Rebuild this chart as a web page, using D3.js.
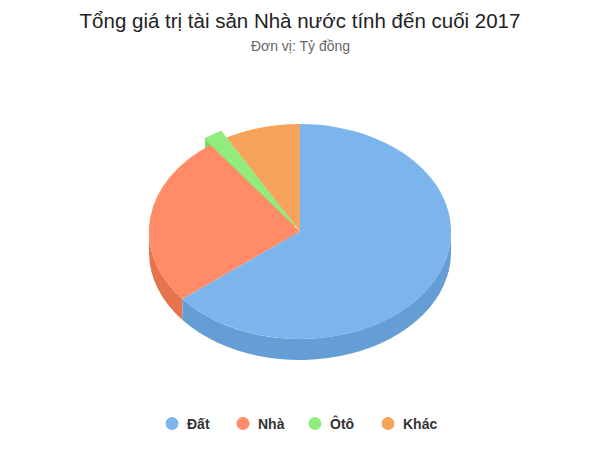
<!DOCTYPE html>
<html><head><meta charset="utf-8">
<script src="https://cdn.jsdelivr.net/npm/d3@7/dist/d3.min.js"></script>
<style>html,body{margin:0;padding:0;background:#fff}svg{display:block}text{font-family:"Liberation Sans",Arial,sans-serif}</style>
</head><body><div id="c"></div>
<script>
const categories = ["Đất", "Nhà", "Ôtô", "Khác"];
const values = [64.2, 25.7, 2.0, 8.1];
const colors = ["#7cb5ec", "#ff8c66", "#90ed7d", "#f7a35c"];
const sides = ["#659ed5", "#e5734d", "#77d464", "#de8a43"];
const slicedFlags = [false, false, true, false];
const titleText = "Tổng giá trị tài sản Nhà nước tính đến cuối 2017";
const subtitleText = "Đơn vị: Tỷ đồng";

const W = 600, H = 450, cx = 300, cy = 231.5, rx = 151, ry = 107.5, depth = 21, offset = 10;
const svg = d3.select("#c").append("svg").attr("width", W).attr("height", H);
svg.append("rect").attr("width", W).attr("height", H).attr("fill", "#fff");
svg.append("text").attr("x", 300).attr("y", 28).attr("text-anchor", "middle").attr("font-size", 20.5).attr("fill", "#222").text(titleText);
svg.append("text").attr("x", 300.5).attr("y", 51).attr("text-anchor", "middle").attr("font-size", 14).attr("fill", "#666").text(subtitleText);

const arcs = d3.pie().sort(null)(values).map((d, i) => {
  const mid = (d.startAngle + d.endAngle) / 2, off = slicedFlags[i] ? offset : 0;
  return {...d, i, ox: cx + off * Math.sin(mid), oy: cy - off * Math.cos(mid) * ry / rx};
});
const pt = (a, o, dy = 0) => [o.ox + rx * Math.sin(a), o.oy - ry * Math.cos(a) + dy];

function topFace(o) {
  const p0 = pt(o.startAngle, o), p1 = pt(o.endAngle, o);
  const large = o.endAngle - o.startAngle > Math.PI ? 1 : 0;
  return `M${o.ox},${o.oy}L${p0}A${rx},${ry} 0 ${large} 1 ${p1}Z`;
}
function outerWall(o) {
  // only the part of the rim facing the viewer (PI/2 .. 3PI/2)
  const a0 = Math.max(o.startAngle, Math.PI / 2), a1 = Math.min(o.endAngle, 3 * Math.PI / 2);
  if (a1 <= a0) return null;
  const p0 = pt(a0, o), p1 = pt(a1, o), q1 = pt(a1, o, depth), q0 = pt(a0, o, depth);
  return `M${p0}A${rx},${ry} 0 0 1 ${p1}L${q1}A${rx},${ry} 0 0 0 ${q0}Z`;
}
function cutWall(o, a) {
  const p = pt(a, o);
  return `M${o.ox},${o.oy}L${p}L${p[0]},${p[1] + depth}L${o.ox},${o.oy + depth}Z`;
}

// Painter's order: the pulled-out slice sits behind its neighbours.
const order = [2, 3, 1, 0];
order.forEach(i => {
  const o = arcs[i], g = svg.append("g");
  const walls = (slicedFlags[i] ? [cutWall(o, o.startAngle)] : []).concat(outerWall(o) || []);
  g.selectAll("path.w").data(walls).join("path").attr("class", "w").attr("d", d => d).attr("fill", sides[i]);
  const top = g.append("path").attr("d", topFace(o)).attr("fill", colors[i]);
  if (slicedFlags[i]) top.attr("stroke", colors[i]).attr("stroke-width", 1.6).attr("stroke-linejoin", "round");
});

const symX = d3.scaleOrdinal().domain(categories).range([172, 243, 315, 388]);
const leg = svg.append("g").selectAll("g").data(categories).join("g")
  .attr("transform", d => `translate(${symX(d)},423.5)`);
leg.append("circle").attr("r", 6.5).attr("fill", (d, i) => colors[i]);
leg.append("text").attr("x", 15).attr("y", 5).attr("font-size", 14).attr("font-weight", "bold").attr("fill", "#333").text(d => d);
</script></body></html>
